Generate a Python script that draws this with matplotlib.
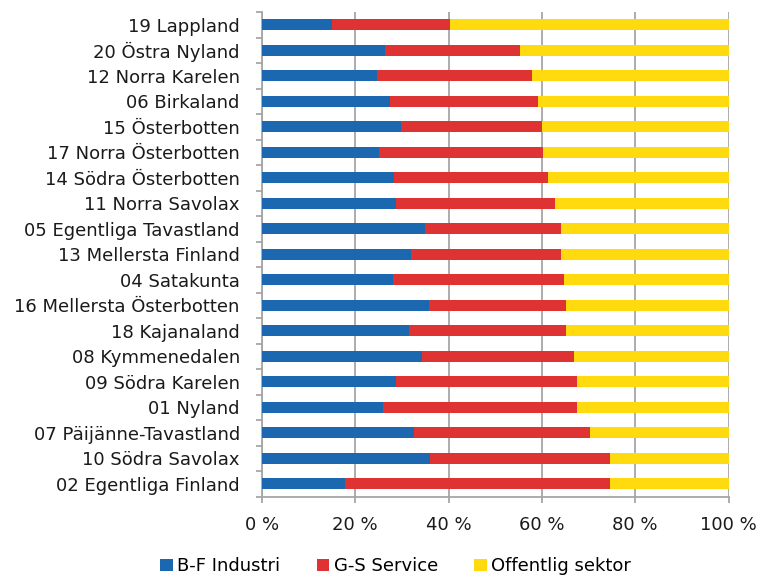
import matplotlib
matplotlib.use('Agg')
import matplotlib.pyplot as plt
import numpy as np

plt.rcParams['font.family'] = ['DejaVu Sans']

# regions from top to bottom
regions = ['19 Lappland', '20 Östra Nyland', '12 Norra Karelen', '06 Birkaland',
           '15 Österbotten', '17 Norra Österbotten', '14 Södra Österbotten',
           '11 Norra Savolax', '05 Egentliga Tavastland', '13 Mellersta Finland',
           '04 Satakunta', '16 Mellersta Österbotten', '18 Kajanaland',
           '08 Kymmenedalen', '09 Södra Karelen', '01 Nyland',
           '07 Päijänne-Tavastland', '10 Södra Savolax', '02 Egentliga Finland']

industri = [15.1, 26.4, 24.7, 27.4, 29.8, 25.0, 28.4, 28.8, 34.9, 31.9,
            28.0, 35.7, 31.5, 34.3, 28.8, 26.0, 32.6, 36.0, 17.7]
service = [25.3, 28.8, 33.2, 31.8, 30.2, 35.3, 33.0, 33.9, 29.2, 32.2,
           36.8, 29.4, 33.6, 32.6, 38.8, 41.6, 37.7, 38.5, 56.8]
offentlig = [100 - a - b for a, b in zip(industri, service)]

series = ['B-F Industri', 'G-S Service', 'Offentlig sektor']
colors = ['#1B68B1', '#DE3233', '#FFDA0E']

fig = plt.figure(figsize=(7.61, 5.77), dpi=100)
ax = fig.add_axes([0.3443, 0.1395, 0.6130, 0.8397])

y = np.arange(len(regions))[::-1]
left = np.zeros(len(regions))
for vals, name, col in zip([industri, service, offentlig], series, colors):
    ax.barh(y, vals, left=left, height=0.43, color=col, label=name, zorder=3)
    left += np.array(vals)

ax.set_xlim(0, 100)
ax.set_ylim(-0.5, len(regions) - 0.5)
ax.set_xticks(np.arange(0, 101, 20))
ax.set_xticklabels([f'{v} %' for v in range(0, 101, 20)])
ax.set_yticks(np.arange(len(regions) + 1) - 0.5)
ax.set_yticklabels([])
ax.set_yticks(y, minor=True)
ax.set_yticklabels(regions, minor=True)

ax.grid(axis='x', color='#A6A6A6', linewidth=1.3, zorder=0)
for s in ['top', 'right']:
    ax.spines[s].set_visible(False)
for s in ['left', 'bottom']:
    ax.spines[s].set_color('#A6A6A6')
    ax.spines[s].set_linewidth(1.3)

ax.tick_params(axis='x', length=4, width=1.3, color='#A6A6A6', pad=10,
               labelsize=13, labelcolor='#1A1A1A')
ax.tick_params(axis='y', which='major', length=4, width=1.3, color='#A6A6A6')
ax.tick_params(axis='y', which='minor', length=0, pad=16,
               labelsize=13, labelcolor='#1A1A1A')

fig.legend(loc='lower center', bbox_to_anchor=(0.52, -0.025), ncol=3, frameon=False,
           fontsize=13, handlelength=0.7, handleheight=0.7, handletextpad=0.25,
           columnspacing=2.0)

fig.savefig('out.png', dpi=100)
